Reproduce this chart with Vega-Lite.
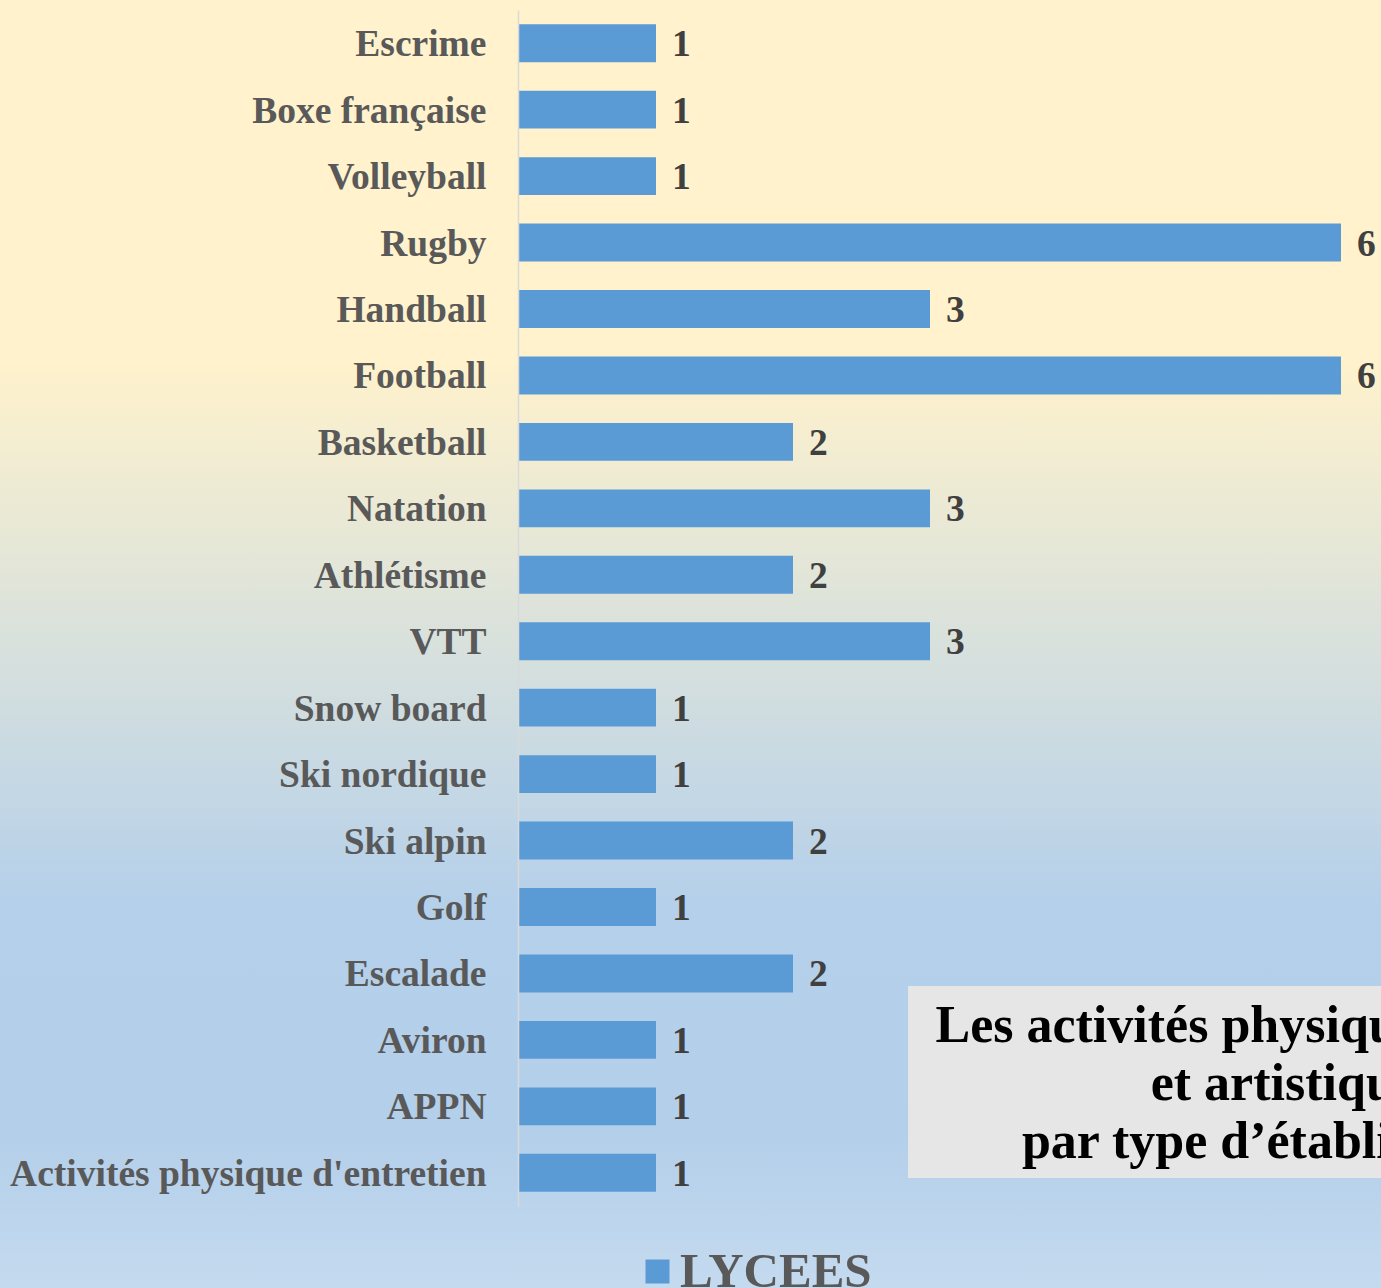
{
  "$schema": "https://vega.github.io/schema/vega-lite/v6.json",
  "width": 1381,
  "height": 1288,
  "autosize": "none",
  "padding": 0,
  "background": "#C2D8EF",
  "config": {"view": {"stroke": null}, "font": "Liberation Serif"},
  "datasets": {
    "apsa": [
      {"activite": "Escrime", "nombre": 1, "type": "LYCEES"},
      {"activite": "Boxe française", "nombre": 1, "type": "LYCEES"},
      {"activite": "Volleyball", "nombre": 1, "type": "LYCEES"},
      {"activite": "Rugby", "nombre": 6, "type": "LYCEES"},
      {"activite": "Handball", "nombre": 3, "type": "LYCEES"},
      {"activite": "Football", "nombre": 6, "type": "LYCEES"},
      {"activite": "Basketball", "nombre": 2, "type": "LYCEES"},
      {"activite": "Natation", "nombre": 3, "type": "LYCEES"},
      {"activite": "Athlétisme", "nombre": 2, "type": "LYCEES"},
      {"activite": "VTT", "nombre": 3, "type": "LYCEES"},
      {"activite": "Snow board", "nombre": 1, "type": "LYCEES"},
      {"activite": "Ski nordique", "nombre": 1, "type": "LYCEES"},
      {"activite": "Ski alpin", "nombre": 2, "type": "LYCEES"},
      {"activite": "Golf", "nombre": 1, "type": "LYCEES"},
      {"activite": "Escalade", "nombre": 2, "type": "LYCEES"},
      {"activite": "Aviron", "nombre": 1, "type": "LYCEES"},
      {"activite": "APPN", "nombre": 1, "type": "LYCEES"},
      {"activite": "Activités physique d'entretien", "nombre": 1, "type": "LYCEES"}
    ]
  },
  "layer": [
    {
      "data": {"values": [{}]},
      "mark": {
        "type": "rect",
        "fill": {
          "gradient": "linear",
          "x1": 0, "y1": 0, "x2": 0, "y2": 1,
          "stops": [
            {"offset": 0, "color": "#FFF2CC"},
            {"offset": 0.28, "color": "#FFF2CC"},
            {"offset": 0.45, "color": "#E1E5D9"},
            {"offset": 0.7, "color": "#B5D0EA"},
            {"offset": 0.88, "color": "#B4CFEA"},
            {"offset": 1, "color": "#C4DAEF"}
          ]
        }
      },
      "encoding": {}
    },
    {
      "data": {"name": "apsa"},
      "mark": {"type": "bar"},
      "encoding": {
        "y": {
          "field": "activite",
          "type": "nominal",
          "scale": {
            "domain": ["Escrime", "Boxe française", "Volleyball", "Rugby", "Handball", "Football", "Basketball", "Natation", "Athlétisme", "VTT", "Snow board", "Ski nordique", "Ski alpin", "Golf", "Escalade", "Aviron", "APPN", "Activités physique d'entretien"],
            "range": [10, 1206],
            "paddingInner": 0.43,
            "paddingOuter": 0.215
          },
          "axis": {
            "orient": "left",
            "offset": -518,
            "zindex": 1,
            "ticks": false,
            "labelPadding": 32,
            "labelOffset": 2,
            "labelFont": "Liberation Serif",
            "labelFontWeight": "bold",
            "labelFontSize": 37.5,
            "labelColor": "#595959",
            "labelLimit": 0,
            "domainColor": "#D9D9D9",
            "domainWidth": 1.5,
            "grid": false,
            "title": null
          }
        },
        "x": {
          "field": "nombre",
          "type": "quantitative",
          "scale": {"domain": [0, 6], "range": [519, 1341], "nice": false, "zero": true},
          "axis": null
        },
        "color": {
          "field": "type",
          "type": "nominal",
          "scale": {"range": ["#5B9BD5"]},
          "legend": {
            "orient": "none",
            "legendX": 633,
            "legendY": 1247,
            "title": null,
            "padding": 0,
            "symbolType": "square",
            "symbolSize": 576,
            "symbolStrokeWidth": 0,
            "symbolOpacity": 1,
            "labelFont": "Liberation Serif",
            "labelFontWeight": "bold",
            "labelFontSize": 49,
            "labelColor": "#595959",
            "labelOffset": -2,
            "labelLimit": 0
          }
        }
      }
    },
    {
      "data": {"name": "apsa"},
      "mark": {
        "type": "text",
        "align": "left",
        "baseline": "middle",
        "dx": 16,
        "dy": 2,
        "font": "Liberation Serif",
        "fontWeight": "bold",
        "fontSize": 37.5,
        "color": "#404040"
      },
      "encoding": {
        "y": {"field": "activite", "type": "nominal"},
        "x": {"field": "nombre", "type": "quantitative"},
        "text": {"field": "nombre", "type": "quantitative"}
      }
    },
    {
      "data": {"values": [{"cadre": "titre"}]},
      "mark": {"type": "rect", "fill": "#E7E6E6"},
      "encoding": {
        "x": {"datum": 2.84, "type": "quantitative"},
        "x2": {"datum": 7},
        "y": {"datum": "Escalade", "type": "nominal", "bandPosition": 0.83},
        "y2": {"datum": "Activités physique d'entretien", "bandPosition": 0.64}
      }
    },
    {
      "data": {"values": [{"titre": "Les activités physiques sportives\net artistiques\npar type d’établissement"}]},
      "mark": {
        "type": "text",
        "align": "center",
        "baseline": "middle",
        "lineBreak": "\n",
        "lineHeight": 58,
        "dy": -80,
        "font": "Liberation Serif",
        "fontWeight": "bold",
        "fontSize": 52,
        "color": "#000000"
      },
      "encoding": {
        "x": {"datum": 5.66, "type": "quantitative"},
        "y": {"datum": "APPN", "type": "nominal"},
        "text": {"field": "titre", "type": "nominal"}
      }
    }
  ]
}
